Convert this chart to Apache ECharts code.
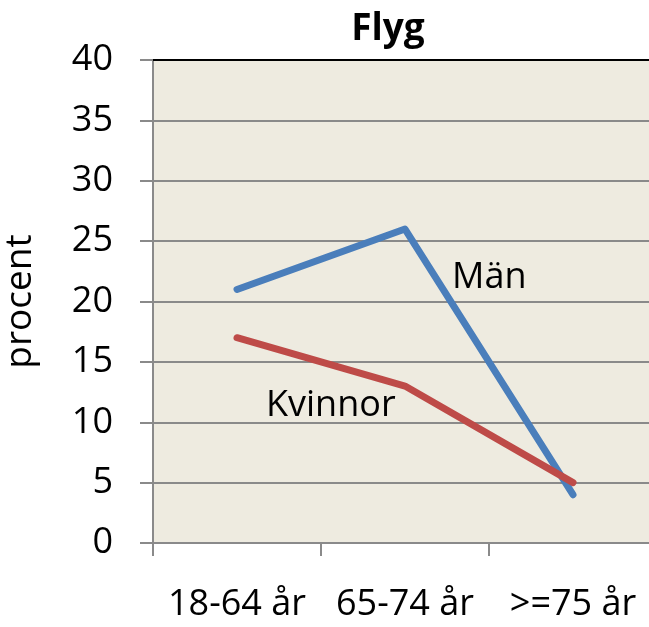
<!DOCTYPE html>
<html>
<head>
<meta charset="utf-8">
<script src="https://cdn.jsdelivr.net/npm/echarts@6/dist/echarts.min.js"></script>
<style>
  html, body { margin: 0; padding: 0; background: #fff; }
  #chart { width: 649px; height: 627px; }
</style>
</head>
<body>
<div id="chart"></div>
<script>
const categories = ["18-64 år", "65-74 år", ">=75 år"];
const man = [21, 26, 4];
const kvinnor = [17, 13, 5];
const yTicks = [0, 5, 10, 15, 20, 25, 30, 35, 40];

const font = "'Open Sans', 'Noto Sans', sans-serif";
const chart = echarts.init(document.getElementById("chart"));

chart.setOption({
  animation: false,
  title: {
    text: "Flyg",
    left: 383,
    top: 6,
    textAlign: "center",
    textStyle: { fontFamily: font, fontSize: 37, fontWeight: "bold", color: "#000" }
  },
  grid: {
    left: 153,
    top: 60,
    height: 483,
    right: -8,
    outerBoundsMode: "none",
    containLabel: false,
    show: true,
    backgroundColor: "#EEEBE0",
    borderWidth: 0
  },
  xAxis: [
    {
      type: "category",
      data: categories,
      boundaryGap: true,
      axisLine: { lineStyle: { color: "#8a8a8a", width: 2 } },
      axisTick: { show: true, length: 13, lineStyle: { color: "#8a8a8a", width: 2 } },
      axisLabel: { fontFamily: font, fontSize: 36, color: "#000", margin: 44, interval: 0, hideOverlap: false }
    },
    {
      type: "category",
      data: categories,
      position: "top",
      axisLine: { lineStyle: { color: "#000", width: 2 } },
      axisTick: { show: false },
      axisLabel: { show: false }
    }
  ],
  yAxis: {
    type: "value",
    min: yTicks[0],
    max: yTicks[yTicks.length - 1],
    interval: 5,
    name: "procent",
    nameLocation: "middle",
    nameGap: 114,
    nameRotate: 90,
    nameTextStyle: { fontFamily: font, fontSize: 37, color: "#000" },
    axisLine: { show: true, lineStyle: { color: "#8a8a8a", width: 2 } },
    axisTick: { show: true, length: 13, lineStyle: { color: "#8a8a8a", width: 2 } },
    splitLine: { show: true, lineStyle: { color: "#8a8a8a", width: 2 } },
    axisLabel: { fontFamily: font, fontSize: 36, color: "#000", margin: 40 }
  },
  series: [
    {
      name: "Män",
      type: "line",
      data: man,
      symbol: "none",
      lineStyle: { color: "#4A7EBB", width: 7, cap: "round", join: "round" }
    },
    {
      name: "Kvinnor",
      type: "line",
      data: kvinnor,
      symbol: "none",
      lineStyle: { color: "#BE4B48", width: 7, cap: "round", join: "round" }
    }
  ],
  graphic: [
    {
      type: "text",
      left: 452,
      top: 260,
      style: { text: "Män", font: "36px " + font, fill: "#000" }
    },
    {
      type: "text",
      left: 266,
      top: 388,
      style: { text: "Kvinnor", font: "36px " + font, fill: "#000" }
    }
  ]
});
</script>
</body>
</html>
